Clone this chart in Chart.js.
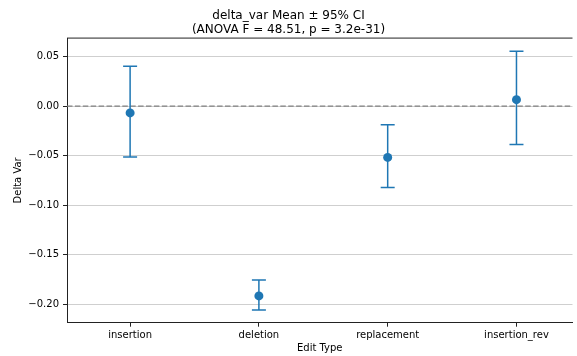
<!DOCTYPE html>
<html>
<head>
<meta charset="utf-8">
<script src="https://cdn.jsdelivr.net/npm/chart.js@4/dist/chart.umd.min.js"></script>
<style>
  html, body { margin: 0; padding: 0; background: #fff; overflow: hidden; }
  canvas { display: block; }
</style>
</head>
<body>
<canvas id="grafico" width="577" height="356"></canvas>
<script>
/* Delta var por tipo de edición: media ± IC 95% */

const categorias = ['insertion', 'deletion', 'replacement', 'insertion_rev'];
const medias     = [-0.0068, -0.1914, -0.0517, 0.0066];
const limInf     = [-0.0513, -0.2056, -0.0820, -0.0386];
const limSup     = [0.0402, -0.1753, -0.0187, 0.0554];
const ticksY     = [-0.20, -0.15, -0.10, -0.05, 0.00, 0.05];

const AZUL = '#1f77b4';
const FUENTE = 'DejaVu Sans';

// Barras de error con topes, usando las escalas del gráfico
const barrasError = {
  id: 'barrasError',
  beforeDatasetsDraw(chart) {
    const { ctx, scales: { x, y } } = chart;
    ctx.save();
    ctx.strokeStyle = AZUL;
    ctx.lineWidth = 1.5;
    categorias.forEach((_, i) => {
      const px = x.getPixelForValue(i);
      const pInf = y.getPixelForValue(limInf[i]);
      const pSup = y.getPixelForValue(limSup[i]);
      ctx.beginPath();
      ctx.moveTo(px, pInf); ctx.lineTo(px, pSup);
      ctx.moveTo(px - 7, pInf); ctx.lineTo(px + 7, pInf);
      ctx.moveTo(px - 7, pSup); ctx.lineTo(px + 7, pSup);
      ctx.stroke();
    });
    ctx.restore();
  }
};

// Línea de referencia en cero y borde superior del área
const lineaCero = {
  id: 'lineaCero',
  beforeDatasetsDraw(chart) {
    const { ctx, chartArea: a, scales: { y } } = chart;
    const py = y.getPixelForValue(0);
    ctx.save();
    ctx.strokeStyle = '#808080';
    ctx.lineWidth = 1.3;
    ctx.setLineDash([5.5, 2.4]);
    ctx.beginPath();
    ctx.moveTo(a.left, py); ctx.lineTo(a.right, py);
    ctx.stroke();
    ctx.restore();
  },
  afterDraw(chart) {
    const { ctx, chartArea: a } = chart;
    ctx.save();
    ctx.strokeStyle = '#222';
    ctx.lineWidth = 1;
    ctx.beginPath();
    ctx.moveTo(a.left, a.top); ctx.lineTo(a.right, a.top);
    ctx.stroke();
    ctx.restore();
  }
};

const menos = v => v.toFixed(2).replace('-', '\u2212');

new Chart(document.getElementById('grafico'), {
  type: 'scatter',
  data: {
    labels: categorias,
    datasets: [{
      data: medias.map((m, i) => ({ x: i, y: m })),
      backgroundColor: AZUL,
      borderColor: AZUL,
      pointRadius: 4.5,
      pointHoverRadius: 4.5,
      borderWidth: 0
    }]
  },
  options: {
    responsive: false,
    animation: false,
    layout: { padding: { left: 0, right: 0, top: 0, bottom: 0 } },
    plugins: {
      legend: { display: false },
      tooltip: { enabled: false },
      title: {
        display: true,
        text: ['delta_var Mean \u00b1 95% CI', '(ANOVA F = 48.51, p = 3.2e-31)'],
        color: '#000',
        font: { family: FUENTE, size: 12, weight: 'normal', lineHeight: 1.17 },
        padding: { top: 9, bottom: 1 }
      }
    },
    scales: {
      x: {
        type: 'linear',
        min: -0.49,
        max: 3.435,
        afterBuildTicks: s => { s.ticks = categorias.map((_, i) => ({ value: i })); },
        afterFit: s => { s.height = 33.3; },
        ticks: {
          callback: v => categorias[v],
          color: '#000',
          font: { family: FUENTE, size: 10 },
          padding: 3,
          maxRotation: 0
        },
        grid: { drawOnChartArea: false, drawTicks: true, tickLength: 4, tickColor: '#222' },
        border: { display: true, color: '#222' },
        title: {
          display: true,
          text: 'Edit Type',
          color: '#000',
          font: { family: FUENTE, size: 10 },
          padding: { top: 0, bottom: 2 }
        }
      },
      y: {
        min: -0.2184,
        max: 0.0687,
        afterBuildTicks: s => { s.ticks = ticksY.map(v => ({ value: v })); },
        afterFit: s => { s.width = 67; },
        ticks: {
          callback: v => menos(v),
          color: '#000',
          font: { family: FUENTE, size: 10 },
          padding: 4
        },
        grid: { color: '#cfcfcf', lineWidth: 1, tickLength: 4, tickColor: '#222' },
        border: { display: true, color: '#222' },
        title: {
          display: true,
          text: 'Delta Var',
          color: '#000',
          font: { family: FUENTE, size: 10 },
          padding: { top: 12, bottom: 0 }
        }
      }
    }
  },
  plugins: [lineaCero, barrasError]
});
</script>
</body>
</html>
